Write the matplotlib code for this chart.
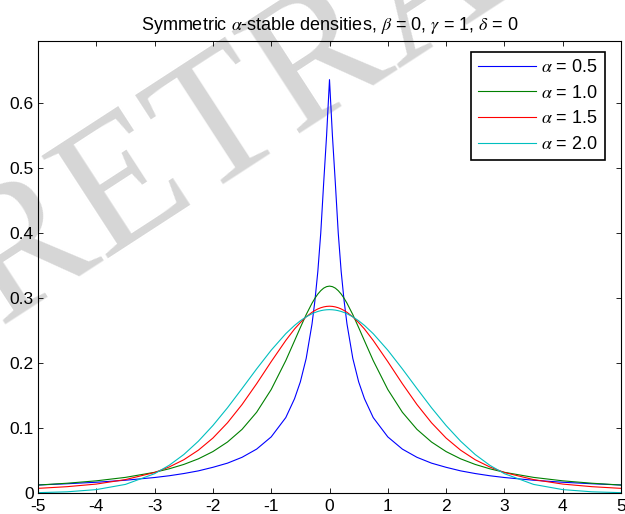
import numpy as np
import matplotlib
matplotlib.use("Agg")
import matplotlib.pyplot as plt

# symmetric stable densities, beta = 0, gamma = 1, delta = 0
# values read for x >= 0, curves are mirrored about x = 0
x_half = [0, 0.05, 0.1, 0.15, 0.2, 0.25, 0.3, 0.4, 0.5, 0.6, 0.75, 1.0, 1.25,
          1.5, 1.75, 2.0, 2.25, 2.5, 2.75, 3.0, 3.5, 4.0, 4.5, 5.0]
f_a05 = [0.636, 0.550, 0.477, 0.400, 0.341, 0.296, 0.260, 0.207, 0.171, 0.145,
         0.116, 0.0863, 0.0675, 0.0549, 0.0459, 0.0395, 0.0340, 0.0299, 0.0265,
         0.0238, 0.0196, 0.0165, 0.0142, 0.0123]
f_a10 = [0.3183, 0.3175, 0.3152, 0.3113, 0.3061, 0.2996, 0.2920, 0.2744, 0.2546,
         0.2341, 0.2037, 0.1592, 0.1242, 0.0979, 0.0784, 0.0637, 0.0525, 0.0439,
         0.0372, 0.0318, 0.0240, 0.0187, 0.0150, 0.0122]
f_a15 = [0.2874, 0.2871, 0.2863, 0.2850, 0.2832, 0.2808, 0.2780, 0.2710, 0.2622,
         0.2523, 0.2347, 0.2021, 0.1681, 0.1361, 0.1080, 0.0845, 0.0658, 0.0511,
         0.0400, 0.0315, 0.0206, 0.0137, 0.0097, 0.0071]
f_a20 = [0.2821, 0.2819, 0.2814, 0.2805, 0.2793, 0.2777, 0.2758, 0.2710, 0.2650,
         0.2578, 0.2451, 0.2197, 0.1909, 0.1607, 0.1311, 0.1038, 0.0796, 0.0591,
         0.0426, 0.0297, 0.0132, 0.0052, 0.0018, 0.0005]
labels = ['0.5', '1.0', '1.5', '2.0']
colors = ['#0000ff', '#008000', '#ff0000', '#00bfbf']


def mirror(v):
    v = np.asarray(v, dtype=float)
    return np.concatenate([v[:0:-1], v])


x = np.concatenate([-np.asarray(x_half[:0:-1]), np.asarray(x_half)])

plt.rcParams['font.family'] = ['Liberation Sans', 'DejaVu Sans']
plt.rcParams['mathtext.fontset'] = 'stix'
plt.rcParams['axes.unicode_minus'] = False

fig = plt.figure(figsize=(6.25, 5.14), dpi=100)
ax = fig.add_axes([0.0608, 0.0409, 0.9328, 0.880])
ax.patch.set_alpha(0)

# grey watermark behind the axes
fig.text(0.0, 0.368, 'RETRACTED', family='Liberation Serif', fontsize=134,
         color='#d6d6d6', rotation=33, rotation_mode='anchor',
         ha='left', va='baseline', zorder=-1)

for f, lab, c in zip([f_a05, f_a10, f_a15, f_a20], labels, colors):
    ax.plot(x, mirror(f), color=c, lw=0.8, label=r'$\alpha$ = ' + lab)

ax.set_xlim(-5, 5)
ax.set_ylim(0, 0.696)
ax.set_xticks(np.arange(-5, 6, 1))
ax.set_yticks([0, 0.1, 0.2, 0.3, 0.4, 0.5, 0.6])
ax.set_yticklabels(['0', '0.1', '0.2', '0.3', '0.4', '0.5', '0.6'])
ax.tick_params(direction='in', top=True, right=True, length=3.5, width=0.6,
               labelsize=12.5)
ax.tick_params(axis='x', pad=4.5)
ax.tick_params(axis='y', pad=3)
for s in ax.spines.values():
    s.set_linewidth(0.8)

ax.set_title(r'Symmetric $\alpha$-stable densities, $\beta$ = 0, $\gamma$ = 1, $\delta$ = 0',
             fontsize=13, pad=8)

leg = ax.legend(loc='upper right', bbox_to_anchor=(0.968, 0.899),
                bbox_transform=fig.transFigure, fontsize=13, fancybox=False,
                framealpha=1, edgecolor='black', handlelength=3.2,
                handletextpad=0.3, labelspacing=0.48, borderpad=0.4,
                borderaxespad=0)
leg.get_frame().set_linewidth(1.2)

fig.savefig('out.png', dpi=100)
